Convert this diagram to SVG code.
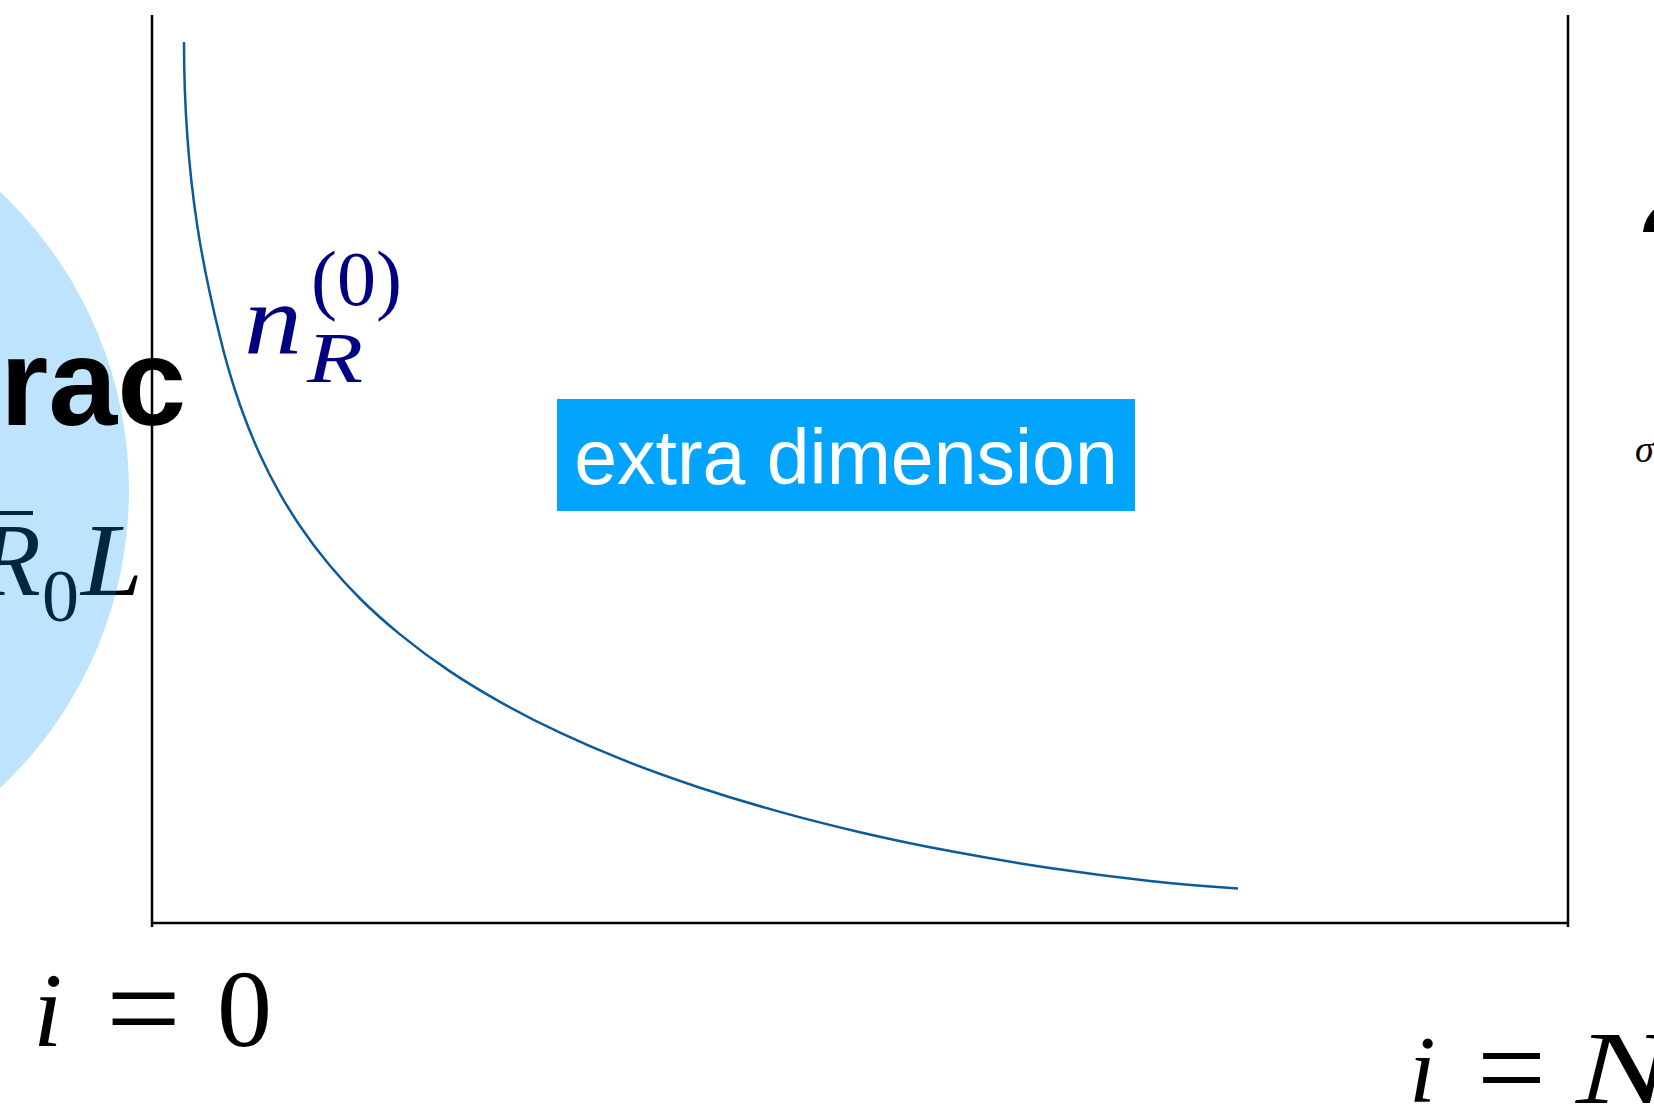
<svg xmlns="http://www.w3.org/2000/svg" width="1654" height="1107" viewBox="0 0 1654 1107">
<style>
.axis{stroke:#000;stroke-width:2.5;fill:none}
.curve{stroke:#0b5b9b;stroke-width:2.5;fill:none;stroke-linecap:butt}
.math{font-family:"Liberation Serif","DejaVu Serif",serif}
.it{font-style:italic}
.bold{font-family:"Liberation Sans",Arial,sans-serif;font-weight:bold;fill:#000}
</style>
<rect width="1654" height="1107" fill="#fff"/>
<g id="left-label">
<text class="math it" x="-22" y="595" font-size="103" fill="#000">R</text>
<rect x="-40" y="511" width="73" height="4" fill="#000"/>
<text class="math" x="42" y="621" font-size="74" fill="#000">0</text>
<text class="math it" x="81" y="595" font-size="103" fill="#000" textLength="62" lengthAdjust="spacingAndGlyphs">L</text>
</g>
<circle id="site-left" cx="-280" cy="490" r="409" fill="#0097f3" fill-opacity="0.26"/>
<g id="axes">
<line class="axis" x1="152" y1="15" x2="152" y2="927"/>
<line class="axis" x1="1568" y1="15" x2="1568" y2="927"/>
<line class="axis" x1="151" y1="923" x2="1569" y2="923"/>
</g>
<g id="curve">
<path class="curve" d="M184,42 C184,192 208,287.7 220,337 C226.67,364.4 233.33,386 240,405 C246.67,424 253.33,440.2 260,454.7 C266.67,469.2 273.33,482.1 280,493.8 C286.67,505.5 293.33,516.1 300,526 C310,540.8 320,553.9 330,565.8 C340,577.7 350,588.5 360,598.5 C373.33,611.8 386.67,623.5 400,634.4 C416.67,648 433.33,660.3 450,671.4 C466.67,682.5 483.33,692.5 500,701.9 C520,713.1 540,723.3 560,732.7 C580,742.1 600,750.7 620,758.7 C646.67,769.4 673.33,778.9 700,787.7 C726.67,796.5 753.33,804.5 780,811.9 C806.67,819.3 833.33,826 860,832.2 C890,839.2 920,845.4 950,851.1 C983.33,857.4 1016.67,863 1050,868 C1083.33,873 1116.67,877.3 1150,881 C1179.33,884.3 1208.67,886.6 1238,888.5"/>
</g>
<g id="dirac-label">
<text class="bold" x="0" y="425" font-size="124">rac</text>
</g>
<g id="curve-label" fill="#000080">
<text class="math it" x="244" y="353" font-size="100" textLength="58" lengthAdjust="spacingAndGlyphs">n</text>
<text class="math" x="311" y="305" font-size="78">(0)</text>
<text class="math it" x="307" y="382" font-size="72" textLength="56" lengthAdjust="spacingAndGlyphs">R</text>
</g>
<g id="extra-dimension">
<rect x="557" y="399" width="578" height="112" fill="#02a4fe"/>
<text x="846" y="484" font-family="'Liberation Sans',Arial,sans-serif" font-size="77" fill="#fff" text-anchor="middle">extra dimension</text>
</g>
<g id="label-i0" fill="#000">
<text class="math it" x="33" y="1046" font-size="106">i</text>
<text class="math" x="106" y="1052" font-size="130" textLength="75" lengthAdjust="spacingAndGlyphs">=</text>
<text class="math" x="217" y="1046" font-size="110">0</text>
</g>
<g id="label-iN" fill="#000">
<text class="math it" x="1409" y="1102" font-size="96">i</text>
<text class="math" x="1477" y="1108" font-size="118" textLength="69" lengthAdjust="spacingAndGlyphs">=</text>
<text class="math it" x="1576" y="1103" font-size="104" textLength="96" lengthAdjust="spacingAndGlyphs">N</text>
</g>
<g id="right-label">
<text class="bold" x="1636" y="305" font-size="150">?</text>
<text class="math it" x="1635" y="462" font-size="38" fill="#000">σ</text>
</g>
</svg>
